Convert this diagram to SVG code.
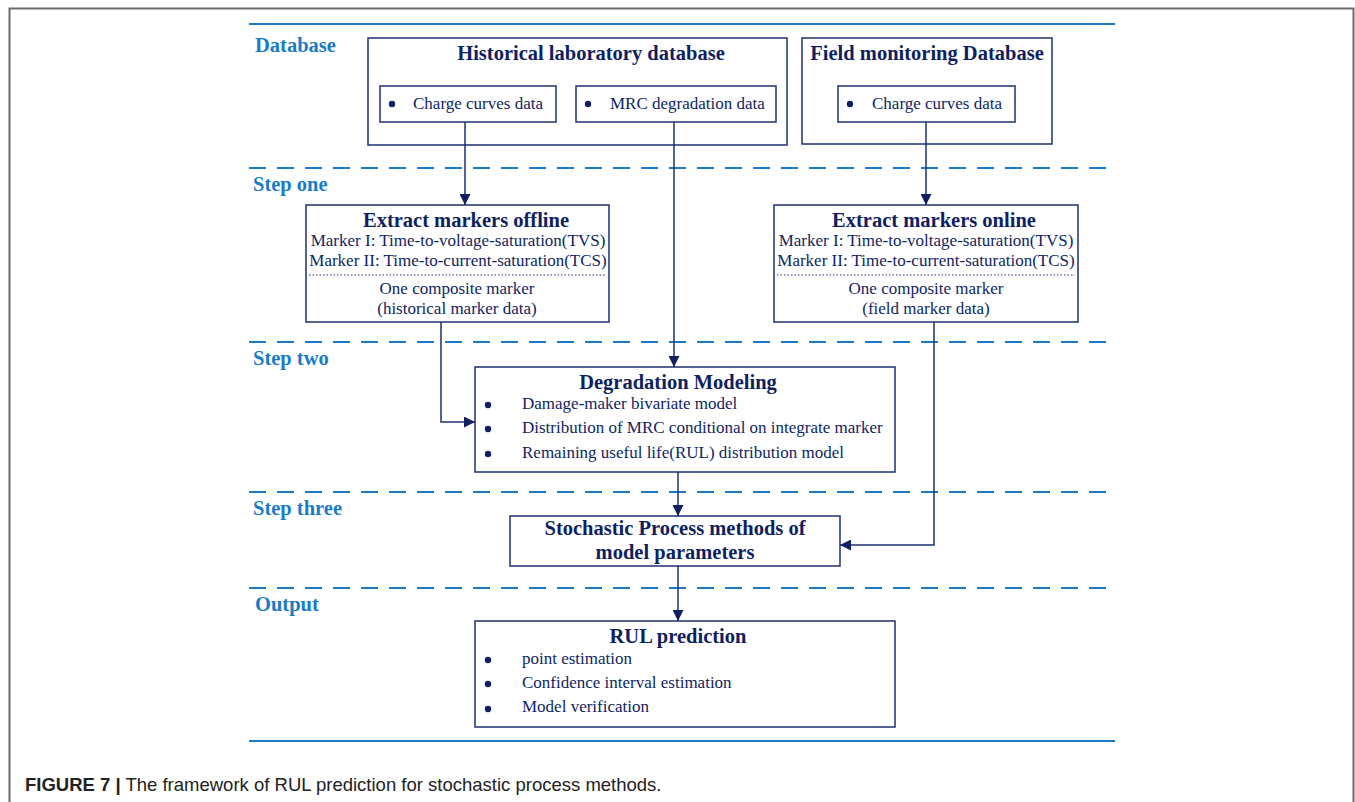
<svg xmlns="http://www.w3.org/2000/svg" width="1355" height="802" viewBox="0 0 1355 802">
<defs>
<marker id="ah" viewBox="0 0 10 10" refX="10" refY="5" markerWidth="11" markerHeight="11" markerUnits="userSpaceOnUse" orient="auto">
<path d="M0,0 L10,5 L0,10 z" fill="#0f1f62"/>
</marker>
</defs>
<style>
.frame{stroke:#6b6b6b;stroke-width:2;fill:none}
.sep{stroke:#1a7cc8;stroke-width:2;fill:none}
.dash{stroke:#1a7cc8;stroke-width:2;fill:none;stroke-dasharray:17,11}
.lbl{font-family:"Liberation Serif",serif;font-weight:bold;font-size:20.5px;fill:#1a7cc8}
.box{fill:#fff;stroke:#1f2f72;stroke-width:1.5}
.tt{font-family:"Liberation Serif",serif;font-weight:bold;font-size:20.5px;fill:#0f1f62;text-anchor:middle}
.tx{font-family:"Liberation Serif",serif;font-size:17px;fill:#0f1f62}
.txc{font-family:"Liberation Serif",serif;font-size:17px;fill:#0f1f62;text-anchor:middle}
.dot{fill:#0f1f62}
.con{stroke:#1f2f72;stroke-width:1.5;fill:none;marker-end:url(#ah)}
.dotted{stroke:#1f2f72;stroke-width:1;stroke-dasharray:1.5,2;fill:none}
.cap{font-family:"Liberation Sans",Arial,sans-serif;font-size:18.5px;fill:#222}
</style>
<rect width="1355" height="802" fill="#fff"/>
<path class="frame" d="M9.5,802 V8.5 H1353.5 V802"/>

<g id="lanes">
<line class="sep" x1="249" y1="24" x2="1115" y2="24"/>
<line class="dash" x1="249" y1="168" x2="1115" y2="168"/>
<line class="dash" x1="249" y1="342" x2="1115" y2="342"/>
<line class="dash" x1="249" y1="492" x2="1115" y2="492"/>
<line class="dash" x1="249" y1="588" x2="1115" y2="588"/>
<line class="sep" x1="249" y1="741" x2="1115" y2="741"/>
<text class="lbl" x="255" y="52">Database</text>
<text class="lbl" x="253" y="191">Step one</text>
<text class="lbl" x="253" y="365">Step two</text>
<text class="lbl" x="253" y="515">Step three</text>
<text class="lbl" x="255" y="611">Output</text>
</g>

<g id="historical-db">
<rect class="box" x="368" y="38" width="419" height="107"/>
<text class="tt" x="591" y="60">Historical laboratory database</text>
</g>
<g id="charge-curves-lab">
<rect class="box" x="380" y="86" width="176" height="36"/>
<circle class="dot" cx="392" cy="104" r="3.2"/>
<text class="tx" x="413" y="109">Charge curves data</text>
</g>
<g id="mrc-data">
<rect class="box" x="576" y="86" width="200" height="36"/>
<circle class="dot" cx="588" cy="104" r="3.2"/>
<text class="tx" x="610" y="109">MRC degradation data</text>
</g>
<g id="field-db">
<rect class="box" x="802" y="38" width="250" height="106"/>
<text class="tt" x="927" y="60">Field monitoring Database</text>
</g>
<g id="charge-curves-field">
<rect class="box" x="838" y="86" width="177" height="36"/>
<circle class="dot" cx="850" cy="104" r="3.2"/>
<text class="tx" x="872" y="109">Charge curves data</text>
</g>

<g id="extract-offline">
<rect class="box" x="306" y="205" width="303" height="117"/>
<text class="tt" x="466" y="227">Extract markers offline</text>
<text class="txc" x="458" y="246">Marker I: Time-to-voltage-saturation(TVS)</text>
<text class="txc" x="458" y="266">Marker II: Time-to-current-saturation(TCS)</text>
<line class="dotted" x1="309" y1="275" x2="606" y2="275"/>
<text class="txc" x="457" y="294">One composite marker</text>
<text class="txc" x="457" y="314">(historical marker data)</text>
</g>
<g id="extract-online">
<rect class="box" x="774" y="205" width="304" height="117"/>
<text class="tt" x="934" y="227">Extract markers online</text>
<text class="txc" x="926" y="246">Marker I: Time-to-voltage-saturation(TVS)</text>
<text class="txc" x="926" y="266">Marker II: Time-to-current-saturation(TCS)</text>
<line class="dotted" x1="777" y1="275" x2="1075" y2="275"/>
<text class="txc" x="926" y="294">One composite marker</text>
<text class="txc" x="926" y="314">(field marker data)</text>
</g>

<g id="degradation-modeling">
<rect class="box" x="475" y="367" width="420" height="105"/>
<text class="tt" x="678" y="389">Degradation Modeling</text>
<circle class="dot" cx="488" cy="405" r="3.2"/>
<text class="tx" x="522" y="409">Damage-maker bivariate model</text>
<circle class="dot" cx="488" cy="429" r="3.2"/>
<text class="tx" x="522" y="433">Distribution of MRC conditional on integrate marker</text>
<circle class="dot" cx="488" cy="454" r="3.2"/>
<text class="tx" x="522" y="458">Remaining useful life(RUL) distribution model</text>
</g>

<g id="stochastic">
<rect class="box" x="510" y="516" width="330" height="50"/>
<text class="tt" x="675" y="535">Stochastic Process methods of</text>
<text class="tt" x="675" y="559">model parameters</text>
</g>

<g id="rul-prediction">
<rect class="box" x="475" y="621" width="420" height="106"/>
<text class="tt" x="678" y="643">RUL prediction</text>
<circle class="dot" cx="488" cy="660" r="3.2"/>
<text class="tx" x="522" y="664">point estimation</text>
<circle class="dot" cx="488" cy="684" r="3.2"/>
<text class="tx" x="522" y="688">Confidence interval estimation</text>
<circle class="dot" cx="488" cy="709" r="3.2"/>
<text class="tx" x="522" y="712">Model verification</text>
</g>

<g id="connectors">
<path class="con" d="M465,122 V205"/>
<path class="con" d="M674,122 V367"/>
<path class="con" d="M926,122 V205"/>
<path class="con" d="M441,322 V422 H475"/>
<path class="con" d="M934,322 V545 H840"/>
<path class="con" d="M678,472 V516"/>
<path class="con" d="M678,566 V621"/>
</g>

<g id="caption">
<text class="cap" x="25" y="791"><tspan font-weight="bold">FIGURE 7 |</tspan> The framework of RUL prediction for stochastic process methods.</text>
</g>
</svg>
